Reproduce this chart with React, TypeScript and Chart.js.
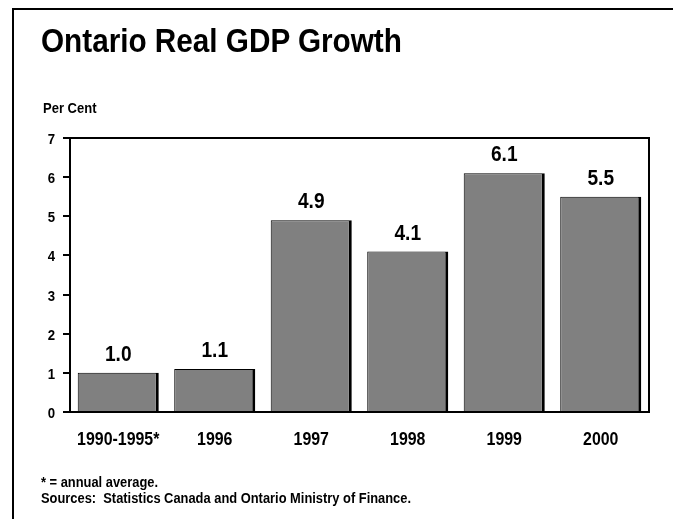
import React, { useEffect, useRef } from "react";
import { Chart, registerables } from "chart.js";

Chart.register(...registerables);

const categories = ["1990-1995*", "1996", "1997", "1998", "1999", "2000"];
const growth = [1.0, 1.1, 4.9, 4.1, 6.1, 5.5];
const yTicks = [0, 1, 2, 3, 4, 5, 6, 7];
const titleText = "Ontario Real GDP Growth";
const unitText = "Per Cent";
const footnotes = ["* = annual average.", "Sources:  Statistics Canada and Ontario Ministry of Finance."];

const FONT = '"Liberation Sans", Arial, sans-serif';

function narrowText(ctx: any, text: string, x: number, y: number, size: number, sx: number, align: string) {
  ctx.save();
  ctx.translate(x, y);
  ctx.scale(sx, 1);
  ctx.font = `bold ${size}px ${FONT}`;
  ctx.fillStyle = "#000";
  ctx.textAlign = align;
  ctx.textBaseline = "alphabetic";
  ctx.fillText(text, 0, 0);
  ctx.restore();
}

const boxPlugin = {
  id: "box",
  afterDatasetsDraw(chart: any) {
    const { ctx, chartArea } = chart;
    ctx.save();
    ctx.strokeStyle = "#000";
    ctx.lineWidth = 2;
    ctx.beginPath();
    ctx.moveTo(chartArea.left, chartArea.top);
    ctx.lineTo(chartArea.right, chartArea.top);
    ctx.lineTo(chartArea.right, chartArea.bottom);
    ctx.stroke();
    ctx.restore();
  },
};

const labelPlugin = {
  id: "narrowLabels",
  afterDraw(chart: any) {
    const { ctx, chartArea } = chart;
    const meta = chart.getDatasetMeta(0);
    meta.data.forEach((bar: any, i: number) => {
      narrowText(ctx, growth[i].toFixed(1), bar.x, bar.y - 12, 22.5, 0.85, "center");
    });
    const xs = chart.scales.x;
    categories.forEach((c, i) => {
      narrowText(ctx, c, xs.getPixelForTick(i), chartArea.bottom + 33, 18.5, 0.86, "center");
    });
    const ys = chart.scales.y;
    yTicks.forEach((v) => {
      narrowText(ctx, String(v), chartArea.left - 15, ys.getPixelForValue(v) + 6, 15, 0.88, "right");
    });
  },
};

export default function App() {
  const ref = useRef<HTMLCanvasElement | null>(null);
  useEffect(() => {
    document.body.style.margin = "0";
    const chart = new Chart(ref.current as HTMLCanvasElement, {
      type: "bar",
      data: {
        labels: categories,
        datasets: [
          {
            data: growth,
            backgroundColor: "#808080",
            borderColor: "#000",
            borderWidth: { left: 1, top: 1, right: 3, bottom: 0 } as any,
            borderSkipped: false,
            categoryPercentage: 1,
            barPercentage: 0.84,
          },
        ],
      },
      options: {
        animation: false,
        responsive: false,
        maintainAspectRatio: false,
        layout: { padding: { left: 0, top: 138, right: 24, bottom: 57 } },
        plugins: { legend: { display: false }, tooltip: { enabled: false }, title: { display: false } },
        scales: {
          x: {
            grid: { display: false, drawTicks: false },
            border: { display: true, color: "#000", width: 2 },
            ticks: { color: "rgba(0,0,0,0)", font: { family: FONT, size: 12 }, autoSkip: false, maxRotation: 0 },
            afterFit(scale: any) {
              scale.height = 50;
            },
          },
          y: {
            min: 0,
            max: 7,
            afterBuildTicks(scale: any) {
              scale.ticks = yTicks.map((v) => ({ value: v }));
            },
            grid: { drawOnChartArea: false, drawTicks: true, tickLength: 7, color: "#000", lineWidth: 2 },
            border: { display: true, color: "#000", width: 2 },
            ticks: { color: "rgba(0,0,0,0)", font: { family: FONT, size: 12 }, padding: 8 },
            afterFit(scale: any) {
              scale.width = 70;
            },
          },
        },
      },
      plugins: [boxPlugin, labelPlugin],
    });
    return () => chart.destroy();
  }, []);

  const narrow = (sx: number) => ({ transform: `scaleX(${sx})`, transformOrigin: "0 0" });

  return (
    <div style={{ position: "absolute", left: 0, top: 0, width: 673, height: 519, overflow: "hidden", background: "#fff" }}>
      <div style={{ position: "absolute", left: 12, top: 8, width: 700, height: 600, borderLeft: "2px solid #000", borderTop: "2px solid #000" }} />
      <canvas ref={ref} width={673} height={519} style={{ position: "absolute", left: 0, top: 0, width: 673, height: 519 }} />
      <div style={{ position: "absolute", left: 41, top: 24, font: `bold 33px ${FONT}`, lineHeight: "33px", color: "#000", whiteSpace: "nowrap", ...narrow(0.9) }}>{titleText}</div>
      <div style={{ position: "absolute", left: 43, top: 100.5, font: `bold 14px ${FONT}`, lineHeight: "14px", color: "#000", whiteSpace: "nowrap", ...narrow(0.93) }}>{unitText}</div>
      <div style={{ position: "absolute", left: 41, top: 474, font: `bold 14px ${FONT}`, lineHeight: "16px", color: "#000", whiteSpace: "nowrap", ...narrow(0.92) }}>
        {footnotes.map((f, i) => (
          <div key={i} style={{ whiteSpace: "pre" }}>{f}</div>
        ))}
      </div>
    </div>
  );
}
